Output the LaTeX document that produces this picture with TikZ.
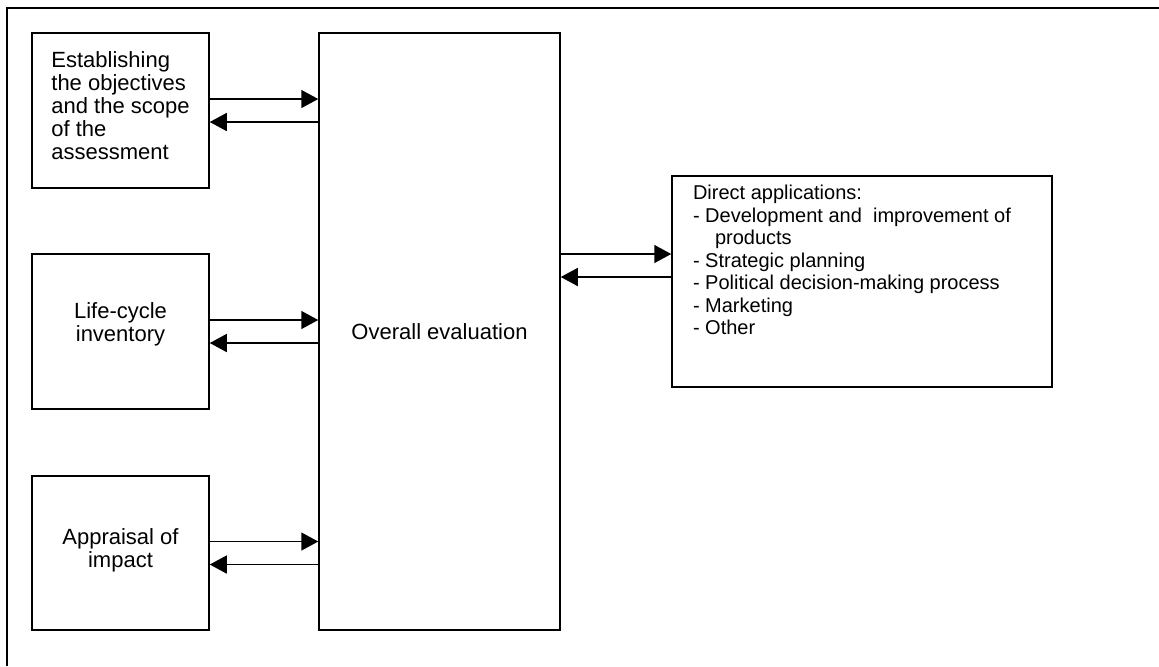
\documentclass[tikz,border=0pt]{standalone}
\usepackage{fontspec}
\setmainfont{Liberation Sans}
\usetikzlibrary{arrows.meta}

\begin{document}
\begin{tikzpicture}[x=0.5pt,y=-0.5pt,
		box/.style={draw,line width=0.75pt,minimum width=88.5pt,minimum height=77.5pt,align=center,font=\fontsize{11}{11.5}\selectfont},
		flow/.style={line width=0.75pt,-{Triangle[length=8.5pt,width=9pt]}}]
		\useasboundingbox (0,0) rectangle (1159,666);
		\draw[line width=1pt] (7,666) -- (7,8) -- (1159,8);

		\node[box,align=left,text depth=5pt] (obj) at (120.5,110.5) {Establishing\\the objectives\\and the scope\\of the\\assessment};
		\node[box,text depth=9.3pt] (lci) at (120.5,331.5) {Life-cycle\\inventory};
		\node[box,minimum height=77pt,text depth=5.3pt] (imp) at (120.5,553) {Appraisal of\\impact};
		\node[box,minimum width=120.5pt,minimum height=298.5pt] (eval) at (439.5,331.5) {Overall evaluation};
		\node[draw,line width=0.75pt,inner xsep=10.5pt,inner ysep=4.5pt,font=\fontsize{10}{11.25}\selectfont] (app) at (862,281.5)
			{\parbox[c][96.5pt][t]{169pt}{Direct applications:\\
			- Development and~ improvement of\\
			\hspace*{11pt}products\\
			- Strategic planning\\
			- Political decision-making process\\
			- Marketing\\
			- Other}};

		\foreach \src in {obj,lci,imp} {
			\draw[flow] ([yshift=5.75pt]\src.east) -- ([yshift=5.75pt]\src.east -| eval.west);
			\draw[flow] ([yshift=-5.75pt]\src.east -| eval.west) -- ([yshift=-5.75pt]\src.east);
		}
		\draw[flow] ([yshift=38.75pt]eval.east) -- ([yshift=38.75pt]eval.east -| app.west);
		\draw[flow] ([yshift=27.25pt]eval.east -| app.west) -- ([yshift=27.25pt]eval.east);
\end{tikzpicture}
\end{document}
